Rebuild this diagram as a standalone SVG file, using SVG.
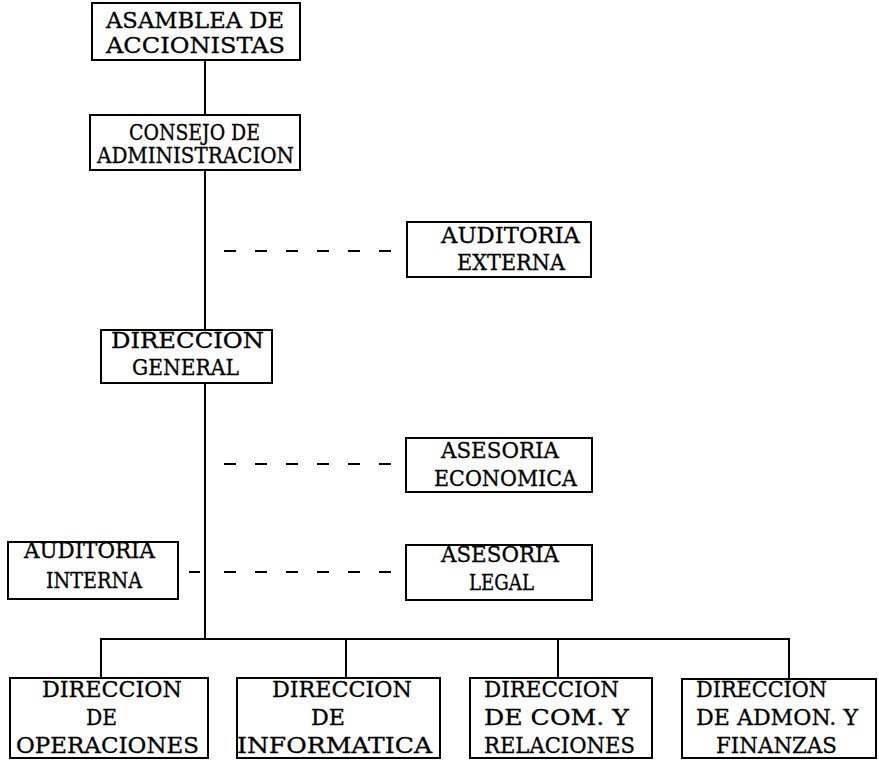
<svg xmlns="http://www.w3.org/2000/svg" width="879" height="760" viewBox="0 0 879 760">
<style>
.box{fill:#fff;stroke:#000;stroke-width:2}
.t{font-family:"DejaVu Serif","Liberation Serif",serif;font-size:22px;fill:#000;stroke:#000;stroke-width:0.3}
.ln{fill:none;stroke:#000;stroke-width:2}
.dash{fill:none;stroke:#000;stroke-width:2.2;stroke-dasharray:12 19}
</style>
<rect width="879" height="760" fill="#fff"/>
<g id="connectors">
<line class="ln" x1="205" y1="60" x2="205" y2="115"/>
<line class="ln" x1="205" y1="170" x2="205" y2="330"/>
<line class="ln" x1="205" y1="383" x2="205" y2="639"/>
<polyline class="ln" points="101,678 101,639 789,639 789,679"/>
<line class="ln" x1="346" y1="639" x2="346" y2="678"/>
<line class="ln" x1="558" y1="639" x2="558" y2="678"/>
<line class="dash" x1="224" y1="251" x2="393" y2="251"/>
<line class="dash" x1="224" y1="464" x2="393" y2="464"/>
<line class="dash" x1="224" y1="572" x2="393" y2="572"/>
<line class="ln" x1="189" y1="572" x2="200" y2="572"/>
</g>
<g id="asamblea">
<rect class="box" x="92" y="3" width="208" height="57"/>
<text class="t" x="106" y="28" textLength="178" lengthAdjust="spacingAndGlyphs">ASAMBLEA DE</text>
<text class="t" x="106" y="53" textLength="179" lengthAdjust="spacingAndGlyphs">ACCIONISTAS</text>
</g>
<g id="consejo">
<rect class="box" x="90" y="115" width="210" height="55"/>
<text class="t" x="129" y="140" textLength="131" lengthAdjust="spacingAndGlyphs">CONSEJO DE</text>
<text class="t" x="97" y="163" textLength="197" lengthAdjust="spacingAndGlyphs">ADMINISTRACION</text>
</g>
<g id="auditoria-externa">
<rect class="box" x="407" y="222" width="184" height="55"/>
<text class="t" x="441" y="243" textLength="139" lengthAdjust="spacingAndGlyphs">AUDITORIA</text>
<text class="t" x="457" y="270" textLength="108" lengthAdjust="spacingAndGlyphs">EXTERNA</text>
</g>
<g id="direccion-general">
<rect class="box" x="101" y="330" width="171" height="53"/>
<text class="t" x="111" y="348" textLength="153" lengthAdjust="spacingAndGlyphs">DIRECCION</text>
<text class="t" x="132" y="375" textLength="107" lengthAdjust="spacingAndGlyphs">GENERAL</text>
</g>
<g id="asesoria-economica">
<rect class="box" x="406" y="438" width="186" height="54"/>
<text class="t" x="441" y="458" textLength="118" lengthAdjust="spacingAndGlyphs">ASESORIA</text>
<text class="t" x="434" y="486" textLength="143" lengthAdjust="spacingAndGlyphs">ECONOMICA</text>
</g>
<g id="auditoria-interna">
<rect class="box" x="8" y="542" width="170" height="57"/>
<text class="t" x="24" y="558" textLength="131" lengthAdjust="spacingAndGlyphs">AUDITORIA</text>
<text class="t" x="46" y="588" textLength="96" lengthAdjust="spacingAndGlyphs">INTERNA</text>
</g>
<g id="asesoria-legal">
<rect class="box" x="406" y="545" width="186" height="55"/>
<text class="t" x="441" y="562" textLength="118" lengthAdjust="spacingAndGlyphs">ASESORIA</text>
<text class="t" x="469" y="590" textLength="65" lengthAdjust="spacingAndGlyphs">LEGAL</text>
</g>
<g id="direccion-operaciones">
<rect class="box" x="10" y="678" width="198" height="80"/>
<text class="t" x="42" y="697" textLength="140" lengthAdjust="spacingAndGlyphs">DIRECCION</text>
<text class="t" x="86" y="725" textLength="31" lengthAdjust="spacingAndGlyphs">DE</text>
<text class="t" x="16" y="753" textLength="183" lengthAdjust="spacingAndGlyphs">OPERACIONES</text>
</g>
<g id="direccion-informatica">
<rect class="box" x="237" y="678" width="203" height="80"/>
<text class="t" x="272" y="697" textLength="140" lengthAdjust="spacingAndGlyphs">DIRECCION</text>
<text class="t" x="311" y="725" textLength="34" lengthAdjust="spacingAndGlyphs">DE</text>
<text class="t" x="237" y="753" textLength="195" lengthAdjust="spacingAndGlyphs">INFORMATICA</text>
</g>
<g id="direccion-relaciones">
<rect class="box" x="470" y="678" width="182" height="80"/>
<text class="t" x="484" y="697" textLength="135" lengthAdjust="spacingAndGlyphs">DIRECCION</text>
<text class="t" x="484" y="725" textLength="145" lengthAdjust="spacingAndGlyphs">DE COM. Y</text>
<text class="t" x="484" y="753" textLength="151" lengthAdjust="spacingAndGlyphs">RELACIONES</text>
</g>
<g id="direccion-finanzas">
<rect class="box" x="682" y="679" width="194" height="79"/>
<text class="t" x="696" y="697" textLength="131" lengthAdjust="spacingAndGlyphs">DIRECCION</text>
<text class="t" x="696" y="725" textLength="162" lengthAdjust="spacingAndGlyphs">DE ADMON. Y</text>
<text class="t" x="716" y="753" textLength="121" lengthAdjust="spacingAndGlyphs">FINANZAS</text>
</g>
</svg>
